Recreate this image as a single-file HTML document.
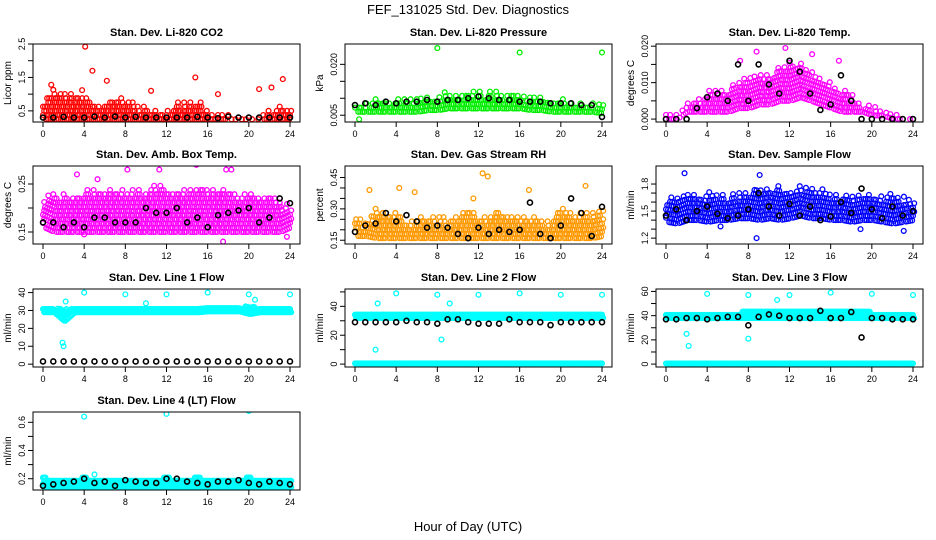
<!DOCTYPE html>
<html><head><meta charset="utf-8"><style>
body{margin:0;background:#fff;}
svg{display:block;font-family:"Liberation Sans",sans-serif;}
</style></head><body>
<svg id="chart" width="936" height="540" viewBox="0 0 936 540">
<text x="468" y="14" text-anchor="middle" font-size="13">FEF_131025  Std. Dev. Diagnostics</text>
<text x="468" y="531" text-anchor="middle" font-size="13">Hour of Day (UTC)</text>
</svg>
<script>
// ---- data (hourly envelopes of the dense point clouds, black series, outliers) ----
const hours = [0,1,2,3,4,5,6,7,8,9,10,11,12,13,14,15,16,17,18,19,20,21,22,23,24];
const co2Low  = [0.25,0.25,0.25,0.25,0.25,0.25,0.25,0.25,0.25,0.25,0.25,0.25,0.25,0.25,0.25,0.25,0.25,0.25,0.25,0.25,0.25,0.25,0.25,0.25,0.25];
const co2High = [0.8,1.2,1.1,1.0,1.1,0.8,0.8,0.9,0.95,0.7,0.7,0.6,0.6,0.75,0.85,0.9,0.55,0.5,0.4,0.35,0.35,0.4,0.6,0.7,0.6];
const co2Black= [0.3,0.3,0.32,0.3,0.3,0.33,0.3,0.33,0.3,0.32,0.3,0.3,0.3,0.3,0.3,0.32,0.3,0.28,0.33,0.3,0.3,0.3,0.3,0.3,0.3];
const co2Out  = [[4.1,2.42],[4.8,1.7],[6.2,1.4],[14.8,1.5],[21,1.15],[22.2,1.2],[23.3,1.45],[10.5,1.1],[17,1.0],[0.8,1.28],[3.8,1.12]];

const presLow  = [0.006,0.006,0.006,0.006,0.006,0.006,0.006,0.0065,0.0065,0.007,0.007,0.007,0.007,0.007,0.007,0.007,0.007,0.0065,0.0065,0.006,0.006,0.006,0.006,0.006,0.0055];
const presHigh = [0.0095,0.0095,0.01,0.01,0.0105,0.0105,0.011,0.011,0.0115,0.012,0.012,0.0125,0.0125,0.0125,0.012,0.012,0.0115,0.011,0.011,0.0105,0.01,0.01,0.0095,0.009,0.009];
const presBlack= [0.008,0.0085,0.008,0.009,0.0085,0.009,0.009,0.0095,0.009,0.0095,0.0095,0.01,0.0105,0.01,0.0095,0.0095,0.009,0.009,0.009,0.0085,0.0085,0.0085,0.008,0.008,0.0045];
const presOut  = [[8,0.0248],[16,0.0235],[24,0.0235],[0.4,0.0038]];

const tempLow  = [0,0,0.002,0.002,0.002,0.002,0.002,0.003,0.003,0.004,0.004,0.005,0.005,0.006,0.005,0.004,0.003,0.002,0.002,0.002,0.001,0.001,0,0,0];
const tempHigh = [0.0025,0.002,0.005,0.006,0.008,0.008,0.009,0.011,0.012,0.013,0.013,0.015,0.016,0.016,0.014,0.012,0.01,0.009,0.007,0.005,0.004,0.003,0.002,0.001,0.001];
const tempBlack= [0,0,0,0.003,0.006,0.007,0.005,0.015,0.005,0.015,0.0095,0.007,0.016,0.013,0.007,0.0025,0.004,0.012,0.005,0,0,0,0,0,0];
const tempOut  = [[11.6,0.0195],[8.8,0.0185],[14.2,0.0178],[16.8,0.016],[7.2,0.016]];

const ambLow  = [0.16,0.15,0.15,0.15,0.15,0.15,0.15,0.15,0.15,0.15,0.15,0.15,0.15,0.15,0.15,0.15,0.15,0.15,0.15,0.15,0.15,0.15,0.15,0.15,0.16];
const ambHigh = [0.22,0.24,0.23,0.23,0.24,0.24,0.24,0.245,0.24,0.24,0.24,0.25,0.245,0.24,0.245,0.25,0.24,0.245,0.24,0.23,0.235,0.23,0.23,0.22,0.21];
const ambBlack= [0.17,0.17,0.16,0.17,0.16,0.18,0.18,0.17,0.17,0.17,0.2,0.19,0.19,0.2,0.17,0.18,0.16,0.185,0.19,0.195,0.2,0.17,0.18,0.22,0.21];
const ambOut  = [[3.3,0.27],[8.2,0.28],[11.3,0.28],[14.9,0.29],[17.8,0.28],[18.3,0.28],[17.5,0.13],[23.7,0.14],[4.0,0.145],[5.3,0.26]];

const rhLow  = [0.17,0.17,0.16,0.16,0.16,0.16,0.16,0.16,0.16,0.16,0.16,0.16,0.16,0.16,0.16,0.16,0.16,0.16,0.16,0.16,0.16,0.16,0.16,0.16,0.17];
const rhHigh = [0.28,0.24,0.32,0.28,0.3,0.25,0.26,0.27,0.28,0.25,0.29,0.3,0.27,0.28,0.31,0.27,0.28,0.27,0.26,0.25,0.31,0.3,0.28,0.3,0.3];
const rhBlack= [0.19,0.22,0.23,0.28,0.24,0.27,0.24,0.21,0.22,0.21,0.18,0.16,0.21,0.18,0.2,0.19,0.2,0.33,0.18,0.16,0.22,0.35,0.28,0.17,0.31];
const rhOut  = [[12.4,0.47],[12.9,0.455],[1.4,0.39],[4.3,0.4],[5.8,0.38],[16.9,0.39],[22.4,0.41],[11.5,0.35]];

const flowLow  = [1.38,1.36,1.4,1.4,1.38,1.4,1.4,1.42,1.42,1.4,1.42,1.4,1.42,1.45,1.42,1.42,1.4,1.4,1.38,1.4,1.4,1.38,1.36,1.38,1.4];
const flowHigh = [1.65,1.7,1.72,1.7,1.72,1.7,1.7,1.72,1.75,1.78,1.8,1.78,1.76,1.78,1.8,1.76,1.72,1.7,1.7,1.72,1.7,1.7,1.72,1.68,1.65];
const flowBlack= [1.45,1.52,1.4,1.5,1.55,1.47,1.42,1.45,1.52,1.7,1.55,1.45,1.58,1.45,1.55,1.4,1.44,1.6,1.48,1.75,1.52,1.42,1.55,1.45,1.5];
const flowOut  = [[1.8,1.92],[8.8,1.2],[18.9,1.3],[23.1,1.28],[9.1,1.9],[5.3,1.33]];

const l1Low  = [29,29,24,29,29,29,29,29,29,29,29,29,29,29,29,29,29.5,29.5,29.5,29.5,28,29,29,29,29];
const l1High = [31,31,31,31,31,31,31,31,31,31,31,31,31,31,31,31,31.5,31.5,31.5,31.5,33,31,31,31,31];
const l1Black= [1.5,1.5,1.5,1.5,1.5,1.5,1.5,1.5,1.5,1.5,1.5,1.5,1.5,1.5,1.5,1.5,1.5,1.5,1.5,1.5,1.5,1.5,1.5,1.5,1.5];
const l1Out  = [[4,40],[8,39],[12,39],[16,40],[20,39],[24,39],[2,10],[1.9,12],[2.2,35],[20.6,36],[10,34]];

const l2Low  = [32,32,32,32,32,32,32,32,32,32,32,32,32,32,32,32,32,32,32,32,32,32,32,32,32];
const l2High = [35,35,35,35,35,35,35,35,35,35,35,35,35,35,35,35,35,35,35,35,35,35,35,35,35];
const l2Black= [29,29,29,29,29,30,29,29,28,31,31,29,28,28,28,31,29,29,29,27,29,29,29,29,29];
const l2Out  = [[4,49],[8,48],[12,48],[16,49],[20,48],[24,48],[2,10],[2.2,42],[9.2,42],[8.4,17]];
const l2Zero = [0.5,0.5,0.5,0.5,0.5,0.5,0.5,0.5,0.5,0.5,0.5,0.5,0.5,0.5,0.5,0.5,0.5,0.5,0.5,0.5,0.5,0.5,0.5,0.5,0.5];

const l3Low  = [38,38,38,38,38,38,38,38,38,38,38,38,38,38,38,38,38,38,38,38,38,38,38,38,38];
const l3High = [43,43,43,43,43,43,43,43,44,44,44,45,45,45,45,45,45,44,44,44,43,43,43,43,43];
const l3Black= [37,37,38,38,37,38,39,39,32,39,41,40,38,38,38,44,38,38,43,22,38,38,37,37,37];
const l3Out  = [[4,58],[8,57],[12,57],[16,59],[20,58],[24,57],[2,25],[2.2,15],[8,21],[10.8,53]];
const l3Zero = [0.5,0.5,0.5,0.5,0.5,0.5,0.5,0.5,0.5,0.5,0.5,0.5,0.5,0.5,0.5,0.5,0.5,0.5,0.5,0.5,0.5,0.5,0.5,0.5,0.5];

const l4Low  = [0.14,0.14,0.14,0.14,0.14,0.14,0.14,0.14,0.14,0.14,0.14,0.14,0.14,0.14,0.14,0.14,0.14,0.14,0.14,0.14,0.14,0.14,0.14,0.14,0.14];
const l4High = [0.21,0.2,0.2,0.2,0.21,0.2,0.2,0.2,0.2,0.2,0.2,0.2,0.21,0.2,0.2,0.21,0.2,0.2,0.2,0.2,0.21,0.2,0.2,0.2,0.19];
const l4Black= [0.15,0.16,0.17,0.18,0.2,0.17,0.18,0.15,0.19,0.18,0.17,0.17,0.2,0.2,0.18,0.17,0.16,0.18,0.18,0.19,0.17,0.16,0.18,0.17,0.16];
const l4Out  = [[4,0.64],[12,0.66],[20,0.68],[5,0.23]];

// ---- layout ----
const SVGNS="http://www.w3.org/2000/svg";
const svg=document.getElementById('chart');
const colX=[33,345,656], rowY=[44,166,289,412], PW=267, PH=78;
const panels=[
 {title:"Stan. Dev. Li-820 CO2",yl:"Licor ppm",c:0,r:0,ymin:0.167,ymax:2.5,ticks:[0.5,1,1.5,2,2.5],labs:["0.5","","1.5","","2.5"],col:"#ff0000",lo:co2Low,hi:co2High,bk:co2Black,out:co2Out,sparse:true},
 {title:"Stan. Dev. Li-820 Pressure",yl:"kPa",c:1,r:0,ymin:0.003,ymax:0.026,ticks:[0.005,0.01,0.015,0.02],labs:["0.005","","","0.020"],col:"#00ee00",lo:presLow,hi:presHigh,bk:presBlack,out:presOut,sparse:true},
 {title:"Stan. Dev. Li-820 Temp.",yl:"degrees C",c:2,r:0,ymin:-0.0008,ymax:0.0206,ticks:[0,0.005,0.01,0.015,0.02],labs:["0.000","","0.010","","0.020"],col:"#ff00ff",lo:tempLow,hi:tempHigh,bk:tempBlack,out:tempOut,sparse:true},
 {title:"Stan. Dev. Amb. Box Temp.",yl:"degrees C",c:0,r:1,ymin:0.125,ymax:0.2875,ticks:[0.15,0.2,0.25],labs:["0.15","","0.25"],col:"#ff00ff",lo:ambLow,hi:ambHigh,bk:ambBlack,out:ambOut,sparse:true},
 {title:"Stan. Dev. Gas Stream RH",yl:"percent",c:1,r:1,ymin:0.132,ymax:0.505,ticks:[0.15,0.2,0.25,0.3,0.35,0.4,0.45],labs:["0.15","","","0.30","","","0.45"],col:"#ff9900",lo:rhLow,hi:rhHigh,bk:rhBlack,out:rhOut,sparse:true},
 {title:"Stan. Dev. Sample Flow",yl:"ml/min",c:2,r:1,ymin:1.135,ymax:2.0,ticks:[1.2,1.3,1.4,1.5,1.6,1.7,1.8],labs:["1.2","","","1.5","","","1.8"],col:"#0000ff",lo:flowLow,hi:flowHigh,bk:flowBlack,out:flowOut,sparse:true},
 {title:"Stan. Dev. Line 1 Flow",yl:"ml/min",c:0,r:2,ymin:-1.6,ymax:42,ticks:[0,10,20,30,40],labs:["0","10","20","30","40"],col:"#00ffff",lo:l1Low,hi:l1High,bk:l1Black,out:l1Out},
 {title:"Stan. Dev. Line 2 Flow",yl:"ml/min",c:1,r:2,ymin:-2,ymax:52,ticks:[0,10,20,30,40,50],labs:["0","","20","","40",""],col:"#00ffff",lo:l2Low,hi:l2High,bk:l2Black,out:l2Out,zero:l2Zero},
 {title:"Stan. Dev. Line 3 Flow",yl:"ml/min",c:2,r:2,ymin:-2.4,ymax:62,ticks:[0,10,20,30,40,50,60],labs:["0","","20","","40","","60"],col:"#00ffff",lo:l3Low,hi:l3High,bk:l3Black,out:l3Out,zero:l3Zero},
 {title:"Stan. Dev. Line 4 (LT) Flow",yl:"ml/min",c:0,r:3,ymin:0.12,ymax:0.673,ticks:[0.2,0.3,0.4,0.5,0.6],labs:["0.2","","0.4","","0.6"],col:"#00ffff",lo:l4Low,hi:l4High,bk:l4Black,out:l4Out}
];
function mk(tag,attrs,parent){const e=document.createElementNS(SVGNS,tag);for(const k in attrs)e.setAttribute(k,attrs[k]);(parent||svg).appendChild(e);return e;}
function interp(arr,x){const i=Math.min(Math.floor(x),23);const f=x-i;return arr[i]*(1-f)+arr[i+1]*f;}

panels.forEach((p,pi)=>{
  const bx=colX[p.c], by=rowY[p.r];
  const g=mk('g',{});
  
  
  const xs=h=>bx+10+h*(PW-20)/24;
  const ys=v=>by+PH-(v-p.ymin)/(p.ymax-p.ymin)*PH;
  const t=mk('text',{x:bx+PW/2,y:by-8,'text-anchor':'middle','font-size':'11','font-weight':'bold'},g);
  t.textContent=p.title;
  
  
  const yl=mk('text',{x:0,y:0,'text-anchor':'middle','font-size':'10',transform:`translate(${bx-22},${by+PH/2}) rotate(-90)`},g);
  yl.textContent=p.yl;
  
  
  const cid='clip'+pi;
  const cp=mk('clipPath',{id:cid},g);mk('rect',{x:bx,y:by,width:PW,height:PH},cp);
  const pts=mk('g',{'clip-path':`url(#${cid})`,fill:'none','stroke-width':'1.3'},g);
  
  
  // dense cloud from envelopes (sparser, with holes and ragged top for scatter panels)
  const hs=p.sparse?0.2:0.12, vs=p.sparse?4.2:3.2;
  let i=0;
  for(let h=0;h<=24.001;h+=hs){
    i++;
    const lo=interp(p.lo,h), hi=interp(p.hi,h);
    const y0=ys(lo), y1=ys(hi);
    const ragged=p.sparse?((i*37)%11)*0.9:0;
    let k=0;
    for(let y=y0;y>=y1+ragged-0.1;y-=vs){
      k++;
      if(p.sparse && (i*7+k*3)%5===0) continue;
      mk('circle',{cx:xs(h)+(k%2)*1.2,cy:y,r:2.4,stroke:p.col},pts);
    }
  }
  if(p.zero){for(let h=0;h<=24.001;h+=0.12){mk('circle',{cx:xs(h),cy:ys(interp(p.zero,h)),r:2.4,stroke:p.col},pts);}}
  p.out.forEach(o=>{mk('circle',{cx:xs(o[0]),cy:ys(o[1]),r:2.4,stroke:p.col},pts);});
  p.bk.forEach((v,j)=>{const c=mk('circle',{cx:xs(hours[j]),cy:ys(v),r:2.5,stroke:'#000','stroke-width':'1.6'},pts);
    
    });
  mk('rect',{x:bx,y:by,width:PW,height:PH,fill:'none',stroke:'#000','stroke-width':'1'},g);
  const xa=mk('g',{stroke:'#000','stroke-width':'1'},g);
  
  
  for(let h=0;h<=24;h+=4){mk('line',{x1:xs(h),x2:xs(h),y1:by+PH,y2:by+PH+5},xa);
    const tl=mk('text',{x:xs(h),y:by+PH+15,'text-anchor':'middle','font-size':'9',stroke:'none'},xa);tl.textContent=h;}
  const ya=mk('g',{stroke:'#000','stroke-width':'1'},g);
  
  
  p.ticks.forEach((v,j)=>{mk('line',{x1:bx-5,x2:bx,y1:ys(v),y2:ys(v)},ya);
    if(p.labs[j]){const tl=mk('text',{x:0,y:0,'text-anchor':'middle','font-size':'9',stroke:'none',transform:`translate(${bx-8},${ys(v)}) rotate(-90)`},ya);tl.textContent=p.labs[j];}});
});
</script>
</body></html>
